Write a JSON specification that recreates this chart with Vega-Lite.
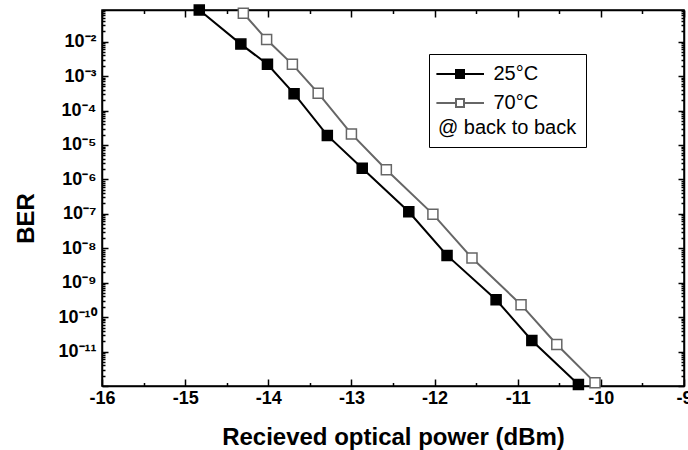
{
  "$schema": "https://vega.github.io/schema/vega-lite/v6.json",
  "width": 582,
  "height": 376,
  "autosize": {"type": "none"},
  "padding": {"left": 102, "top": 10, "right": 4, "bottom": 64},
  "background": "white",
  "config": {
    "view": {"stroke": "#000", "strokeWidth": 1.5},
    "font": "Liberation Sans",
    "axis": {
      "grid": false,
      "domainColor": "#000",
      "domainWidth": 1.5,
      "tickColor": "#000",
      "tickWidth": 1.5,
      "labelColor": "#000",
      "titleColor": "#000",
      "labelFont": "Liberation Sans",
      "titleFont": "Liberation Sans",
      "labelFontWeight": "bold",
      "titleFontWeight": "bold",
      "labelFontSize": 18,
      "titleFontSize": 24,
      "labelFlush": false,
      "labelOverlap": false
    },
    "legend": {
      "strokeColor": "#000",
      "fillColor": "#fff",
      "padding": 9,
      "rowPadding": 8,
      "symbolStrokeWidth": 2,
      "labelFont": "Liberation Sans",
      "labelFontSize": 20,
      "labelColor": "#000",
      "titleFont": "Liberation Sans",
      "titleFontSize": 20,
      "titleFontWeight": "normal",
      "titleColor": "#000"
    }
  },
  "data": {
    "values": [
      {"series": "25°C", "power": -14.83, "ber": 8.3e-2},
      {"series": "25°C", "power": -14.33, "ber": 8.5e-3},
      {"series": "25°C", "power": -14.01, "ber": 2.2e-3},
      {"series": "25°C", "power": -13.69, "ber": 3.1e-4},
      {"series": "25°C", "power": -13.29, "ber": 1.9e-5},
      {"series": "25°C", "power": -12.87, "ber": 2.1e-6},
      {"series": "25°C", "power": -12.31, "ber": 1.15e-7},
      {"series": "25°C", "power": -11.85, "ber": 6.2e-9},
      {"series": "25°C", "power": -11.26, "ber": 3.2e-10},
      {"series": "25°C", "power": -10.83, "ber": 2.1e-11},
      {"series": "25°C", "power": -10.27, "ber": 1.1e-12},
      {"series": "70°C", "power": -14.30, "ber": 6.7e-2},
      {"series": "70°C", "power": -14.02, "ber": 1.15e-2},
      {"series": "70°C", "power": -13.71, "ber": 2.2e-3},
      {"series": "70°C", "power": -13.40, "ber": 3.2e-4},
      {"series": "70°C", "power": -13.00, "ber": 2.1e-5},
      {"series": "70°C", "power": -12.58, "ber": 1.9e-6},
      {"series": "70°C", "power": -12.02, "ber": 9.8e-8},
      {"series": "70°C", "power": -11.55, "ber": 5.2e-9},
      {"series": "70°C", "power": -10.96, "ber": 2.3e-10},
      {"series": "70°C", "power": -10.53, "ber": 1.6e-11},
      {"series": "70°C", "power": -10.07, "ber": 1.25e-12}
    ]
  },
  "layer": [
    {
      "mark": {"type": "line", "strokeWidth": 2},
      "encoding": {
        "x": {
          "field": "power",
          "type": "quantitative",
          "scale": {"domain": [-16, -9], "nice": false, "zero": false},
          "axis": {
            "orient": "bottom",
            "values": [-16, -15.5, -15, -14.5, -14, -13.5, -13, -12.5, -12, -11.5, -11, -10.5, -10, -9.5, -9],
            "tickSize": {"condition": {"test": "datum.value % 1 == 0", "value": -7}, "value": -3.5},
            "labelExpr": "datum.value % 1 == 0 ? '-' + abs(datum.value) : ''",
            "labelPadding": 10,
            "title": "Recieved optical power (dBm)",
            "titleBaseline": "alphabetic",
            "titleY": 58
          }
        },
        "y": {
          "field": "ber",
          "type": "quantitative",
          "scale": {"type": "log", "domain": [1e-12, 0.0832], "nice": false},
          "axis": {
            "orient": "left",
            "values": [1e-12,2e-12,3e-12,4e-12,5e-12,6e-12,7e-12,8e-12,9e-12,1e-11,2e-11,3e-11,4e-11,5e-11,6e-11,7e-11,8e-11,9e-11,1e-10,2e-10,3e-10,4e-10,5e-10,6e-10,7e-10,8e-10,9e-10,1e-9,2e-9,3e-9,4e-9,5e-9,6e-9,7e-9,8e-9,9e-9,1e-8,2e-8,3e-8,4e-8,5e-8,6e-8,7e-8,8e-8,9e-8,1e-7,2e-7,3e-7,4e-7,5e-7,6e-7,7e-7,8e-7,9e-7,1e-6,2e-6,3e-6,4e-6,5e-6,6e-6,7e-6,8e-6,9e-6,1e-5,2e-5,3e-5,4e-5,5e-5,6e-5,7e-5,8e-5,9e-5,1e-4,2e-4,3e-4,4e-4,5e-4,6e-4,7e-4,8e-4,9e-4,1e-3,2e-3,3e-3,4e-3,5e-3,6e-3,7e-3,8e-3,9e-3,1e-2,2e-2,3e-2,4e-2,5e-2,6e-2,7e-2,8e-2],
            "tickSize": {"condition": {"test": "abs(log(datum.value)/LN10 - round(log(datum.value)/LN10)) < 0.001", "value": -6}, "value": -3},
            "labelExpr": "abs(log(datum.value)/LN10 - round(log(datum.value)/LN10)) < 0.001 && datum.value > 5e-12 ? (datum.value > 5e-10 ? '10⁻' + ['⁰','¹','²','³','⁴','⁵','⁶','⁷','⁸','⁹'][-round(log(datum.value)/LN10)] : '10⁻¹' + ['⁰','¹','²','³','⁴','⁵','⁶','⁷','⁸','⁹'][-round(log(datum.value)/LN10) - 10]) : ''",
            "labelPadding": 12,
            "title": "BER",
            "titleAngle": -90,
            "titleAlign": "center",
            "titleBaseline": "alphabetic",
            "titleX": -69,
            "titleY": 208
          }
        },
        "stroke": {
          "field": "series",
          "type": "nominal",
          "scale": {"domain": ["25°C", "70°C"], "range": ["#000000", "#666666"]},
          "legend": {
            "orient": "none",
            "legendX": 327,
            "legendY": 44,
            "title": "@ back to back",
            "titleOrient": "bottom",
            "titleAnchor": "start",
            "titlePadding": 5,
            "symbolType": "M0,0H1.96M1.96,-0.4H2.76V0.4H1.96ZM2.76,0H4.76",
            "symbolSize": 400,
            "symbolOffset": -12.6,
            "labelOffset": 46
          }
        }
      }
    },
    {
      "mark": {"type": "point", "shape": "square", "size": 100, "strokeWidth": 1.5, "opacity": 1, "fillOpacity": 1},
      "encoding": {
        "x": {
          "field": "power",
          "type": "quantitative",
          "axis": {
            "orient": "top",
            "values": [-16, -15.5, -15, -14.5, -14, -13.5, -13, -12.5, -12, -11.5, -11, -10.5, -10, -9.5, -9],
            "tickSize": {"condition": {"test": "datum.value % 1 == 0", "value": -7}, "value": -3.5},
            "labels": false,
            "title": null
          }
        },
        "y": {
          "field": "ber",
          "type": "quantitative",
          "axis": {
            "orient": "right",
            "values": [1e-12,2e-12,3e-12,4e-12,5e-12,6e-12,7e-12,8e-12,9e-12,1e-11,2e-11,3e-11,4e-11,5e-11,6e-11,7e-11,8e-11,9e-11,1e-10,2e-10,3e-10,4e-10,5e-10,6e-10,7e-10,8e-10,9e-10,1e-9,2e-9,3e-9,4e-9,5e-9,6e-9,7e-9,8e-9,9e-9,1e-8,2e-8,3e-8,4e-8,5e-8,6e-8,7e-8,8e-8,9e-8,1e-7,2e-7,3e-7,4e-7,5e-7,6e-7,7e-7,8e-7,9e-7,1e-6,2e-6,3e-6,4e-6,5e-6,6e-6,7e-6,8e-6,9e-6,1e-5,2e-5,3e-5,4e-5,5e-5,6e-5,7e-5,8e-5,9e-5,1e-4,2e-4,3e-4,4e-4,5e-4,6e-4,7e-4,8e-4,9e-4,1e-3,2e-3,3e-3,4e-3,5e-3,6e-3,7e-3,8e-3,9e-3,1e-2,2e-2,3e-2,4e-2,5e-2,6e-2,7e-2,8e-2],
            "tickSize": {"condition": {"test": "abs(log(datum.value)/LN10 - round(log(datum.value)/LN10)) < 0.001", "value": -6}, "value": -3},
            "labels": false,
            "title": null
          }
        },
        "stroke": {
          "field": "series",
          "type": "nominal",
          "legend": {
            "orient": "none",
            "legendX": 327,
            "legendY": 44,
            "title": "@ back to back",
            "titleOrient": "bottom",
            "titleAnchor": "start",
            "titlePadding": 5,
            "symbolType": "M0,0H1.96M1.96,-0.4H2.76V0.4H1.96ZM2.76,0H4.76",
            "symbolSize": 400,
            "symbolOffset": -12.6,
            "labelOffset": 46
          }
        },
        "fill": {
          "field": "series",
          "type": "nominal",
          "scale": {"domain": ["25°C", "70°C"], "range": ["#000000", "#ffffff"]},
          "legend": {
            "orient": "none",
            "legendX": 327,
            "legendY": 44,
            "title": "@ back to back",
            "titleOrient": "bottom",
            "titleAnchor": "start",
            "titlePadding": 5,
            "symbolType": "M0,0H1.96M1.96,-0.4H2.76V0.4H1.96ZM2.76,0H4.76",
            "symbolSize": 400,
            "symbolOffset": -12.6,
            "labelOffset": 46
          }
        }
      }
    }
  ],
  "resolve": {"axis": {"x": "independent", "y": "independent"}}
}
